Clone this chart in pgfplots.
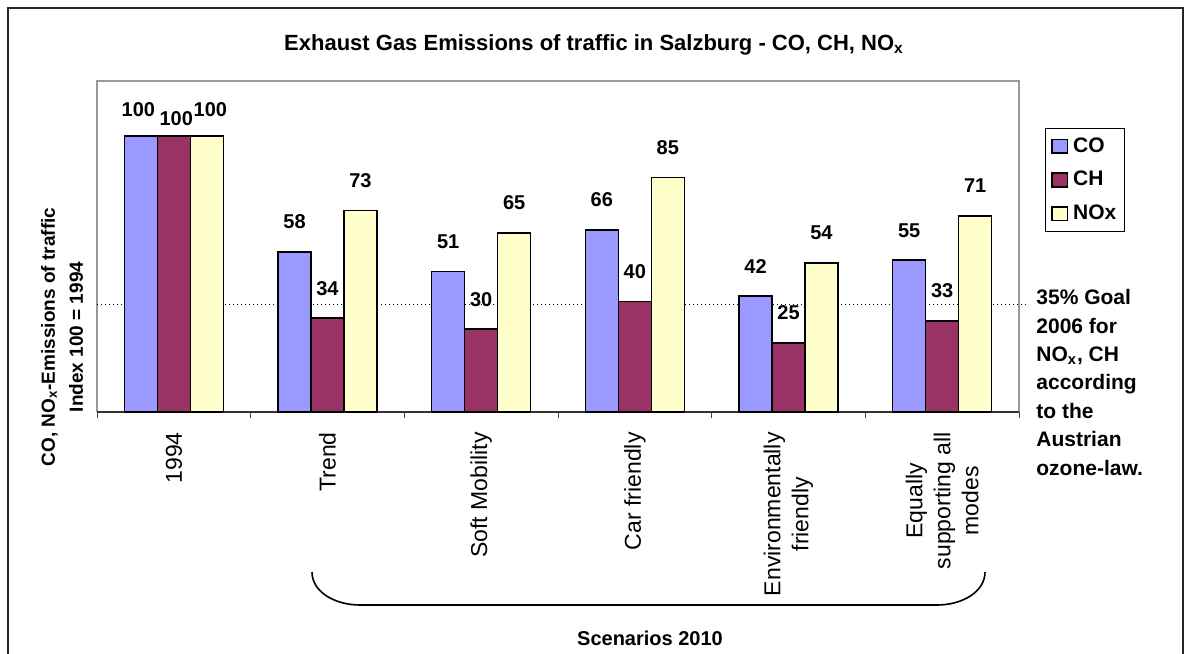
\documentclass[border=0pt]{standalone}
\usepackage{fontspec}
\setmainfont{Liberation Sans}
\usepackage{pgfplots}
\pgfplotsset{compat=1.18}
\definecolor{coc}{HTML}{9999FF}
\definecolor{chc}{HTML}{993366}
\definecolor{noc}{HTML}{FFFFCC}
\definecolor{framegray}{HTML}{999999}
\begin{document}
\begin{tikzpicture}
\begin{scope}[x=0.5pt,y=-0.5pt]
\path[use as bounding box] (0,0) rectangle (1188,653);
\draw[line width=1.1pt, black!85] (8,660) -- (8,8) -- (1183,8) -- (1183,660);
\node[font=\bfseries\fontsize{11}{13}\selectfont] at (594,45) {Exhaust Gas Emissions of traffic in Salzburg - CO, CH, NO\textsubscript{x}};
\node[rotate=90, align=center, font=\bfseries\fontsize{9.5}{14}\selectfont] at (62,337) {CO, NO\textsubscript{x}-Emissions of traffic\\Index 100 = 1994};
\node[anchor=north west, inner sep=0pt, align=left, font=\bfseries\fontsize{10.5}{14.2}\selectfont] at (1036,289) {35\% Goal\\2006 for\\NO\textsubscript{x}, CH\\according\\to the\\Austrian\\ozone-law.};
\draw[line width=0.8pt] (312,572) .. controls (312,592) and (335,605) .. (360,605) -- (937,605) .. controls (962,605) and (985,592) .. (985,572);
\node[font=\bfseries\fontsize{10}{12}\selectfont] at (650,638) {Scenarios 2010};
\end{scope}
\begin{axis}[
  at={(48.5pt,-206pt)}, anchor=south west,
  width=461pt, height=165.5pt, scale only axis,
  xmin=-0.5, xmax=5.5, ymin=0, ymax=120,
  axis line style={draw=none},
  ytick=\empty,
  xtick={0,1,2,3,4,5},
  xticklabels={1994, Trend, Soft Mobility, Car friendly, {Environmentally\\friendly}, {Equally\\supporting all\\modes}},
  major tick length=0pt,
  minor xtick={-0.5,0.5,1.5,2.5,3.5,4.5,5.5},
  minor tick length=3pt,
  minor tick style={black!75, line width=0.5pt},
  tick align=outside, xtick pos=left,
  xticklabel style={rotate=90, anchor=east, align=center, font=\fontsize{11.5}{14}\selectfont, inner sep=0pt},
  xticklabel shift=10pt,
  clip=false,
  legend style={at={(axis description cs:1.028,0.858)}, anchor=north west, draw=black, line width=0.5pt,
    font=\bfseries\fontsize{10.5}{12}\selectfont, row sep=6pt, inner xsep=3pt, inner ysep=3.5pt,
    nodes={inner sep=1pt}, /tikz/every odd column/.style={column sep=1.5pt}},
  legend cell align=left,
  legend image code/.code={\draw[#1, line width=0.8pt] (0pt,-3.4pt) rectangle (7.6pt,3.4pt);},
]
\draw[framegray, line width=1pt] (rel axis cs:0,0) -- (rel axis cs:0,1) -- (rel axis cs:1,1) -- (rel axis cs:1,0);
\draw[black!80, line width=0.6pt] (rel axis cs:0,0) -- (rel axis cs:1,0);
\addplot[black, line width=0.5pt, dash pattern=on 0.5pt off 1.5pt, forget plot] coordinates {(-0.5,38.8) (5.552,38.8)};
\addplot[ybar, bar width=0.2147, bar shift=0pt, fill=coc, draw=black, line width=0.8pt] coordinates {(-0.2147,100) (0.7853,58) (1.7853,51) (2.7853,66) (3.7853,42) (4.7853,55)};
\addlegendentry{CO}
\addplot[ybar, bar width=0.2147, bar shift=0pt, fill=chc, draw=black, line width=0.8pt] coordinates {(0,100) (1,34) (2,30) (3,40) (4,25) (5,33)};
\addlegendentry{CH}
\addplot[ybar, bar width=0.2147, bar shift=0pt, fill=noc, draw=black, line width=0.8pt] coordinates {(0.2147,100) (1.2147,73) (2.2147,65) (3.2147,85) (4.2147,54) (5.2147,71)};
\addlegendentry{NOx}
\addplot[draw=none, mark=none, forget plot, nodes near coords, point meta=explicit symbolic,
  every node near coord/.style={anchor=center, inner sep=0pt, font=\bfseries\fontsize{10}{12}\selectfont}]
  coordinates {
  (-0.231,109.8) [100] (0.016,106.5) [100] (0.238,109.8) [100]
  (0.7853,68.9) [58] (1,44.9) [34] (1.2147,83.9) [73]
  (1.7853,61.9) [51] (2,40.9) [30] (2.2147,75.9) [65]
  (2.7853,76.9) [66] (3,50.9) [40] (3.2147,95.9) [85]
  (3.7853,52.9) [42] (4,35.9) [25] (4.2147,64.9) [54]
  (4.7853,65.9) [55] (5,43.9) [33] (5.2147,81.9) [71]
  };
\end{axis}
\end{tikzpicture}
\end{document}
